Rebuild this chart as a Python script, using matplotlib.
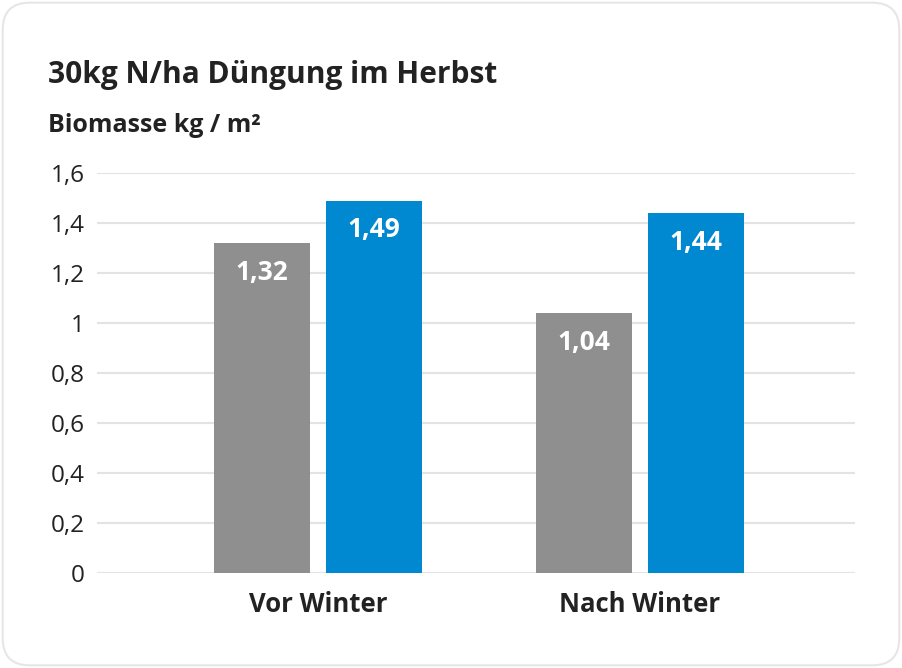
import matplotlib.pyplot as plt
import numpy as np
from matplotlib.patches import FancyBboxPatch

plt.rcParams['font.family'] = ['Open Sans', 'DejaVu Sans']

kategorien = ['Vor Winter', 'Nach Winter']
werte_grau = [1.32, 1.04]
werte_blau = [1.49, 1.44]
y_ticks = [0, 0.2, 0.4, 0.6, 0.8, 1.0, 1.2, 1.4, 1.6]

def komma(v):
    if v == int(v):
        return str(int(v))
    return f"{v:g}".replace('.', ',')

fig = plt.figure(figsize=(9.02, 6.68), dpi=100)

# Karte mit abgerundeten Ecken
karte = FancyBboxPatch((0.003, 0.004), 0.994, 0.992, boxstyle="round,pad=0,rounding_size=0.03",
                       transform=fig.transFigure, facecolor='white', edgecolor='#e6e6e6',
                       linewidth=1.5, mutation_aspect=902 / 668, zorder=-10)
fig.patches.append(karte)

ax = fig.add_axes([97 / 902, 95 / 668, 758 / 902, 400 / 668])
ax.set_facecolor('none')

x = np.arange(len(kategorien))
breite = 0.298
versatz = 0.174
b1 = ax.bar(x - versatz, werte_grau, breite, color='#8f8f8f', zorder=3)
b2 = ax.bar(x + versatz, werte_blau, breite, color='#0088d1', zorder=3)

for balken, werte in ((b1, werte_grau), (b2, werte_blau)):
    for r, v in zip(balken, werte):
        ax.annotate(f"{v:.2f}".replace('.', ','), (r.get_x() + r.get_width() / 2, v),
                    xytext=(0, -21), textcoords='offset points', ha='center', va='center',
                    color='white', fontsize=19, fontweight='bold', zorder=4)

ax.set_xlim(-0.686, 1.668)
ax.set_ylim(0, 1.6)
ax.set_yticks(y_ticks)
ax.set_yticklabels([komma(v) for v in y_ticks], fontsize=17.5, color='#222222')
ax.set_xticks(x)
ax.set_xticklabels(kategorien, fontsize=18.5, fontweight='bold', color='#222222')
ax.tick_params(axis='both', length=0)
ax.tick_params(axis='y', pad=9)
ax.tick_params(axis='x', pad=13)
ax.grid(axis='y', color='#e3e3e3', linewidth=1.5, zorder=0)
ax.set_axisbelow(True)
for s in ax.spines.values():
    s.set_visible(False)

fig.text(48 / 902, 1 - 75 / 668, '30kg N/ha Düngung im Herbst', fontsize=21.5, fontweight='bold',
         color='#222222', va='center', ha='left')
fig.text(48 / 902, 1 - 125 / 668, 'Biomasse kg / m²', fontsize=18, fontweight='bold',
         color='#222222', va='center', ha='left')

fig.savefig('out.png', dpi=100)
